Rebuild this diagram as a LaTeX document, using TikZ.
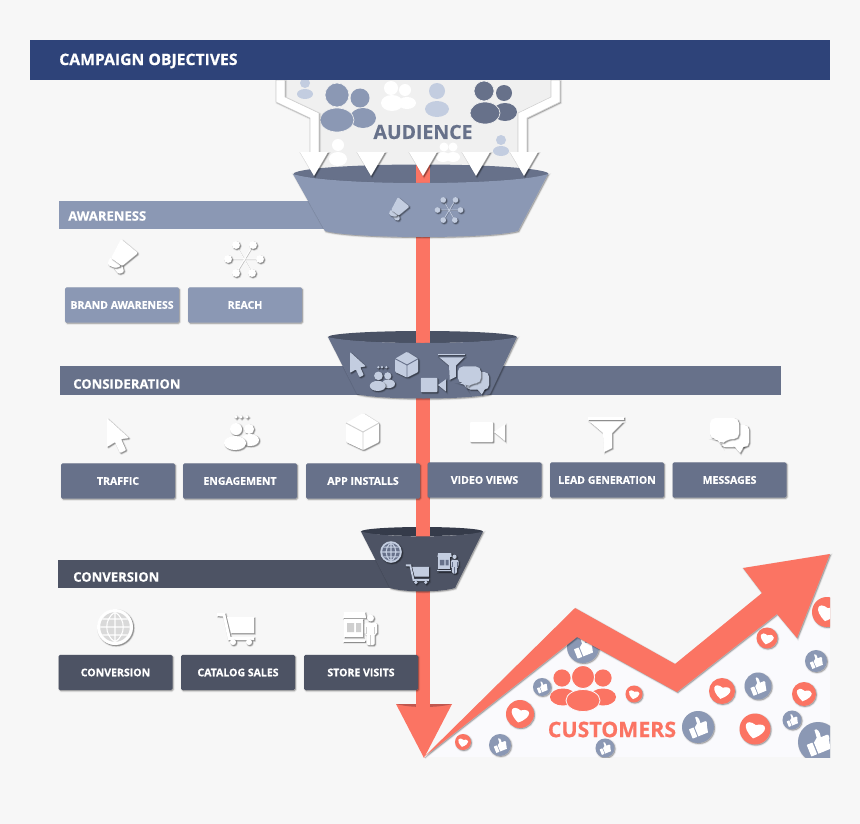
\documentclass[tikz,border=0pt]{standalone}
\usepackage{fontspec}
\setmainfont[BoldFeatures={FakeBold=0.5}]{Open Sans}
\usetikzlibrary{shadows}
\definecolor{bgc}{HTML}{F7F7F7}
\definecolor{headc}{HTML}{2E4379}
\definecolor{blueA}{HTML}{8B98B4}
\definecolor{blueB}{HTML}{67718A}
\definecolor{blueC}{HTML}{4D5364}
\definecolor{darkA}{HTML}{4A5265}
\definecolor{darkB}{HTML}{353B4A}
\definecolor{lightb}{HTML}{C3CDE0}
\definecolor{redc}{HTML}{FB7463}
\definecolor{redd}{HTML}{C0574F}
\definecolor{audc}{HTML}{F0F0F0}
\definecolor{custc}{HTML}{FAFAFD}
\definecolor{sepc}{HTML}{CFCFCF}
\tikzset{
 softsh/.style={
  general shadow={shadow xshift=.7pt,shadow yshift=-.7pt,fill=black,draw=black,line width=1.8pt,opacity=.05},
  general shadow={shadow xshift=.7pt,shadow yshift=-.7pt,fill=black,draw=black,line width=.9pt,opacity=.08},
  general shadow={shadow xshift=.7pt,shadow yshift=-.7pt,fill=black,opacity=.12}},
 icsh/.style={
  general shadow={shadow xshift=.8pt,shadow yshift=-.8pt,fill=black,draw=black,line width=1.6pt,opacity=.07},
  general shadow={shadow xshift=.8pt,shadow yshift=-.8pt,fill=black,draw=black,line width=.8pt,opacity=.1},
  general shadow={shadow xshift=.8pt,shadow yshift=-.8pt,fill=black,opacity=.16}},
 btn/.style={softsh,rectangle,rounded corners=1.2pt,minimum width=85.5pt,minimum height=26.5pt,inner sep=0pt,
   text=white,font=\bfseries\fontsize{7.9}{9}\selectfont},
 bandtxt/.style={text=white,anchor=west,inner sep=0pt,font=\bfseries\fontsize{9.8}{11}\selectfont},
}
\newcommand{\icoMega}[5]{\begin{scope}[shift={(#1,#2)},scale=#3]
 \fill[#4,icsh,rounded corners=1pt] (-11,9)--(-2,6)--(0,14)--(-5.5,16)--cycle;
 \fill[#4,icsh,rounded corners=1pt] (-16,3)--(-13,-1)--(-3,8)--(-9,10)--(-16,7)--cycle;
 \fill[#4,icsh,rounded corners=.8pt] (-3,-19)--(14,-5)--(-2,8)--(-13,0)--cycle;
\end{scope}}
\newcommand{\icoStar}[5]{\begin{scope}[shift={(#1,#2)},scale=#3]
 \draw[black,opacity=.22,line width=.5pt,xshift=.6pt,yshift=-.6pt] (-8,-14)--(8,14) (9,-14)--(-8,14) (-16,0)--(16,0);
 \draw[#4,line width=.5pt] (-8,-14)--(8,14) (9,-14)--(-8,14) (-16,0)--(16,0);
 \fill[#4,icsh] (-8,-14) circle (3.9);\fill[#4,icsh] (9,-14) circle (3.9);
 \fill[#4,icsh] (-16,0) circle (3.9);\fill[#4,icsh] (16,0) circle (3.9);
 \fill[#4,icsh] (-8,14) circle (3.9);\fill[#4,icsh] (8,14) circle (3.9);
\end{scope}}
\newcommand{\icoCursor}[5]{\begin{scope}[shift={(#1,#2)},scale=#3]
 \fill[#4,icsh,rounded corners=.6pt] (-11,-18)--(11,2)--(3,3)--(8,14)--(2,17)--(-3,6)--(-11,11)--cycle;
\end{scope}}
\newcommand{\icoEngage}[5]{\begin{scope}[shift={(#1,#2)},scale=#3]
 \fill[#4,icsh] (-5,-15) circle (1.7);\fill[#4,icsh] (0,-15) circle (1.7);\fill[#4,icsh] (6,-15) circle (1.7);
 \fill[#4,icsh] (8,-3) circle (5);
 \fill[#4,icsh] (9,8) ellipse (9 and 6);
 \fill[#4,icsh] (-5,-3) circle (6);
 \fill[#4,icsh] (-6,11) ellipse (11 and 7);
\end{scope}}
\newcommand{\icoBox}[5]{\begin{scope}[shift={(#1,#2)},scale=#3]
 \fill[#4,icsh,rounded corners=.8pt] (0,-19)--(16,-9)--(16,10)--(0,18)--(-17,10)--(-17,-9)--cycle;
 \draw[#5,line width=.7pt] (-17,-9)--(0,0)--(16,-9) (0,0)--(0,18);
\end{scope}}
\newcommand{\icoVideo}[5]{\begin{scope}[shift={(#1,#2)},scale=#3]
 \fill[#4,icsh,rounded corners=.6pt] (-17,-10) rectangle (6,10);
 \fill[#4,icsh] (7,0)--(18,-8)--(18,9)--cycle;
\end{scope}}
\newcommand{\icoFunnel}[5]{\begin{scope}[shift={(#1,#2)},scale=#3]
 \fill[#4,icsh] (-19,-18) rectangle (17,-15.5);
 \fill[#4,icsh] (-17,-13)--(16,-13)--(5,-2)--(5,13)--(-3,17)--(-4,-2)--cycle;
\end{scope}}
\newcommand{\icoChat}[5]{\begin{scope}[shift={(#1,#2)},scale=#3]
 \fill[#4,icsh,rounded corners=3.5pt] (-9,-10) rectangle (20,12);
 \fill[#4,icsh] (5,11)--(11,18)--(15,11)--cycle;
 \fill[#4,icsh,rounded corners=4pt] (-19,-17)--(10,-17)--(10,4)--(-2,4)--(-8,10)--(-10,4)--(-19,4)--cycle;
\end{scope}}
\newcommand{\icoGlobe}[6]{\begin{scope}[shift={(#1,#2)},scale=#3]
 \fill[#4,icsh] (0,0) circle (18);
 \fill[#6] (0,0) circle (14.8);
 \begin{scope}
 \clip (0,0) circle (14.8);
 \draw[#4,line width=.8pt] (-15,-8)--(15,-8) (-15,0)--(15,0) (-15,8)--(15,8) (0,-15)--(0,15)
  (0,-15) .. controls (-11,-8) and (-11,8) .. (0,15) (0,-15) .. controls (11,-8) and (11,8) .. (0,15);
 \end{scope}
\end{scope}}
\newcommand{\icoCart}[5]{\begin{scope}[shift={(#1,#2)},scale=#3]
 \fill[#4,icsh] (-21,-14)--(-13,-14)--(-7.5,10)--(16,10)--(16,13)--(-10,13)--(-15,-10.5)--(-21,-11)--cycle;
 \fill[#4,icsh] (-11,-10)--(16,-10)--(16,6)--(-7,6)--cycle;
 \fill[#4,icsh] (-5,15) circle (3);\fill[#4,icsh] (11,15) circle (3);
\end{scope}}
\newcommand{\icoStore}[5]{\begin{scope}[shift={(#1,#2)},scale=#3]
 \fill[#4,icsh] (-16,-16)--(5,-16)--(6,-10)--(-17,-10)--cycle;
 \fill[#4,icsh] (-16,-9) rectangle (3,9);
 \fill[#5] (-13,-5) rectangle (-6,4) (-4,-5) rectangle (1,4);
 \fill[#4,icsh] (-17,12) rectangle (5,13.5);
 \fill[#4,icsh] (10.5,-10) circle (3.4);
 \fill[#4,icsh,rounded corners=1pt] (4.5,-5)--(17,-5)--(17,6)--(14.5,6)--(14.5,17)--(6.5,17)--(6.5,6)--(4.5,6)--cycle;
 \draw[#5,line width=.4pt] (10.5,7)--(10.5,17) (6.5,-1)--(6.5,6) (14.5,-1)--(14.5,6);
\end{scope}}
\newcommand{\hrt}[3]{\fill[redc,softsh] (#1,#2) circle (#3);
 \begin{scope}[shift={(#1,#2)},scale=#3,rotate=-12]
 \fill[white] (0,.62) .. controls (-.95,.05) and (-.72,-.62) .. (0,-.26) .. controls (.72,-.62) and (.95,.05) .. (0,.62) -- cycle;
 \end{scope}}
\newcommand{\thm}[3]{\fill[blueA,softsh] (#1,#2) circle (#3);
 \begin{scope}[shift={(#1,#2)},scale=#3,rotate=22]
 \fill[white,rounded corners=.3] (-.58,-.08) rectangle (-.27,.55);
 \fill[white] (-.2,-.05)--(.02,-.22)--(.06,-.62) .. controls (.2,-.7) and (.3,-.45) .. (.22,-.17)--(.55,-.17) .. controls (.66,-.17) and (.62,.05) .. (.55,.12)--(.45,.55)--(-.2,.55)--cycle;
 \end{scope}}
\newcommand{\pp}[8]{\fill[#8] (#1,#2) circle (#3) (#4,#5) ellipse (#6 and #7);}
\begin{document}
\begin{tikzpicture}[x=.75pt,y=-.75pt]
\useasboundingbox (0,0) rectangle (860,824);
\fill[bgc] (0,0) rectangle (860,824);
% audience
\fill[audc] (285,80)--(285,98)--(319,114)--(319,170)--(518,170)--(518,114)--(551,98)--(551,80)--cycle;
\pp{305}{83}{5}{305}{94}{8}{5}{lightb}
\pp{360}{98}{9.5}{363}{118}{13}{10}{blueA}
\filldraw[fill=blueA,draw=audc,line width=.5pt] (337,95) circle (12) (337,120) ellipse (17 and 12);
\pp{405}{90}{6}{407}{103}{9}{6}{white}
\pp{391}{88}{7}{392}{103}{11}{8}{white}
\pp{437}{91}{8}{437}{109}{12}{8}{lightb}
\pp{504}{93}{8}{505}{112}{12}{9}{blueB}
\filldraw[fill=blueB,draw=audc,line width=.5pt] (484,91) circle (10) (485,113) ellipse (15 and 11);
\pp{338}{145}{6}{338}{159}{9}{7}{white}
\pp{444}{147}{4.5}{443}{157}{7}{5}{white}
\pp{453}{147}{4.5}{453}{157}{7}{5}{white}
\pp{501}{140}{5}{501}{151}{8}{5}{lightb}
\node[text=blueB,font=\bfseries\fontsize{14.6}{17}\selectfont,inner sep=0pt] (aud) at (423,132) {AUDIENCE};
% pipes
\filldraw[fill=white,draw=sepc,line width=.4pt,softsh] (276,80)--(276,102)--(310,118)--(310,156)--(319,156)--(319,113)--(285,97)--(285,80)--cycle;
\filldraw[fill=white,draw=sepc,line width=.4pt,softsh] (560,80)--(560,102)--(527,118)--(527,156)--(518,156)--(518,113)--(551,97)--(551,80)--cycle;
% header
\node[rectangle,fill=headc,minimum width=600pt,minimum height=30pt,inner sep=0pt,anchor=north west] (head) at (30,40) {};
\node[text=white,anchor=west,inner sep=0pt,font=\bfseries\fontsize{11.8}{14}\selectfont] (headt) at (59,61) {CAMPAIGN OBJECTIVES};
% funnel 1
\fill[blueB] (421,174) ellipse (127.5 and 9.5);
\fill[redc] (416,165) rectangle (430,710);
\fill[redc] (396,704)--(452,704)--(424,758)--cycle;
\fill[redd] (396,704) .. controls (410,708) and (438,708) .. (452,704)--cycle;
\fill[redc] (416,703) rectangle (430,712);
\fill[blueA] (59,201) rectangle (335,229);
\fill[blueA,softsh] (293,174) .. controls (330,186) and (510,186) .. (548,174)--(518,231) .. controls (490,239) and (355,239) .. (325,231)--cycle;
\foreach \ax in {314,371,423,476,524}{
 \fill[white,icsh] (\ax-14,152)--(\ax+14,152)--(\ax,176)--cycle;}
\node[bandtxt] (lab1) at (68,216) {AWARENESS};
\icoMega{400}{210}{.68}{lightb}{blueA}
\icoStar{449}{210}{.72}{lightb}{blueA}
\icoMega{124}{258}{1}{white}{sepc}
\icoStar{244}{259}{1}{white}{sepc}
\node[btn,fill=blueA] (b1) at (122,305) {BRAND AWARENESS};
\node[btn,fill=blueA] (b2) at (245,305) {REACH};
% funnel 2
\fill[blueB] (60,366) rectangle (781,395);
\fill[darkA] (422.5,337) ellipse (94.5 and 6);
\fill[redc] (416,331) rectangle (430,344);
\fill[blueB,softsh] (328,337) .. controls (360,345) and (485,345) .. (517,337)--(490,394) .. controls (470,400) and (377,400) .. (357,394)--cycle;
\node[bandtxt] (lab2) at (73,384) {CONSIDERATION};
\icoCursor{358}{365}{.72}{lightb}{blueB}
\icoEngage{382}{378}{.72}{lightb}{blueB}
\icoBox{407}{365}{.7}{lightb}{blueB}
\icoVideo{433}{385}{.72}{lightb}{blueB}
\icoFunnel{452}{367}{.75}{lightb}{blueB}
\icoChat{473}{380}{.8}{lightb}{blueB}
\icoCursor{118}{436}{1}{white}{sepc}
\icoEngage{241}{432}{1}{white}{sepc}
\icoBox{363}{432}{1}{white}{sepc}
\icoVideo{487}{432}{1}{white}{sepc}
\icoFunnel{607}{435}{1}{white}{sepc}
\icoChat{729}{435}{1}{white}{sepc}
\node[btn,fill=blueB] (c1) at (118,481) {TRAFFIC};
\node[btn,fill=blueB] (c2) at (240,481) {ENGAGEMENT};
\node[btn,fill=blueB] (c3) at (363,481) {APP INSTALLS};
\node[btn,fill=blueB] (c4) at (484.5,480) {VIDEO VIEWS};
\node[btn,fill=blueB] (c5) at (607,480) {LEAD GENERATION};
\node[btn,fill=blueB] (c6) at (729.5,480) {MESSAGES};
% funnel 3
\fill[blueC] (58,560) rectangle (395,588);
\fill[darkB] (422,531.5) ellipse (61 and 4.5);
\fill[redc] (416,527) rectangle (430,537);
\fill[blueC,softsh] (361,531.5) .. controls (385,538) and (460,538) .. (483,531.5)--(455,588) .. controls (440,592.5) and (405,592.5) .. (390,588)--cycle;
\node[bandtxt] (lab3) at (73,577) {CONVERSION};
\icoGlobe{391}{552}{.6}{lightb}{blueC}{blueB}
\icoCart{419}{573}{.62}{lightb}{blueC}
\icoStore{448}{563}{.62}{lightb}{blueB}
\icoGlobe{115}{627}{1}{white}{sepc}{gray!30}
\icoCart{238}{627}{1}{white}{sepc}
\icoStore{360}{628}{1}{white}{sepc}
\node[btn,fill=blueC] (d1) at (115.5,672.5) {CONVERSION};
\node[btn,fill=blueC] (d2) at (238,672.5) {CATALOG SALES};
\node[btn,fill=blueC] (d3) at (361,672.5) {STORE VISITS};
% customers
\fill[custc] (424,757)--(577,637)--(677,692)--(777,614)--(797,638)--(830,590)--(830,757)--cycle;
\begin{scope}
\clip (424,560) rectangle (830,757);
\thm{583}{647}{16}
\hrt{463}{742}{8}\hrt{520}{714}{14}\hrt{634}{694}{8.5}\hrt{722}{691}{13}
\hrt{767}{638}{10.5}\hrt{804}{694}{12}\hrt{755}{729}{15.5}\hrt{827}{612}{15}
\thm{500}{745}{11}\thm{542}{687}{9}\thm{605}{748}{9.5}\thm{698}{727}{16}
\thm{758}{686}{13.5}\thm{816}{661}{11}\thm{792}{720}{9.5}\thm{818}{742}{20}
\end{scope}
\fill[redc,softsh] (424,757)--(575,608)--(675,664)--(762,593)--(743,568)--(830,554)--(797,638)--(777,614)--(677,692)--(577,637)--cycle;
\fill[redc] (562,678) circle (8.6) (603,678) circle (8.6);
\fill[redc] (563,697) ellipse (13 and 8.5) (603,697) ellipse (13 and 8.5);
\filldraw[fill=redc,draw=custc,line width=.6pt] (583,677) circle (11.5);
\filldraw[fill=redc,draw=custc,line width=.6pt] (583,700.5) ellipse (17 and 11);
\node[text=redc,font=\bfseries\fontsize{16}{18}\selectfont,inner sep=0pt] (cust) at (612,729.5) {CUSTOMERS};
\end{tikzpicture}
\end{document}
